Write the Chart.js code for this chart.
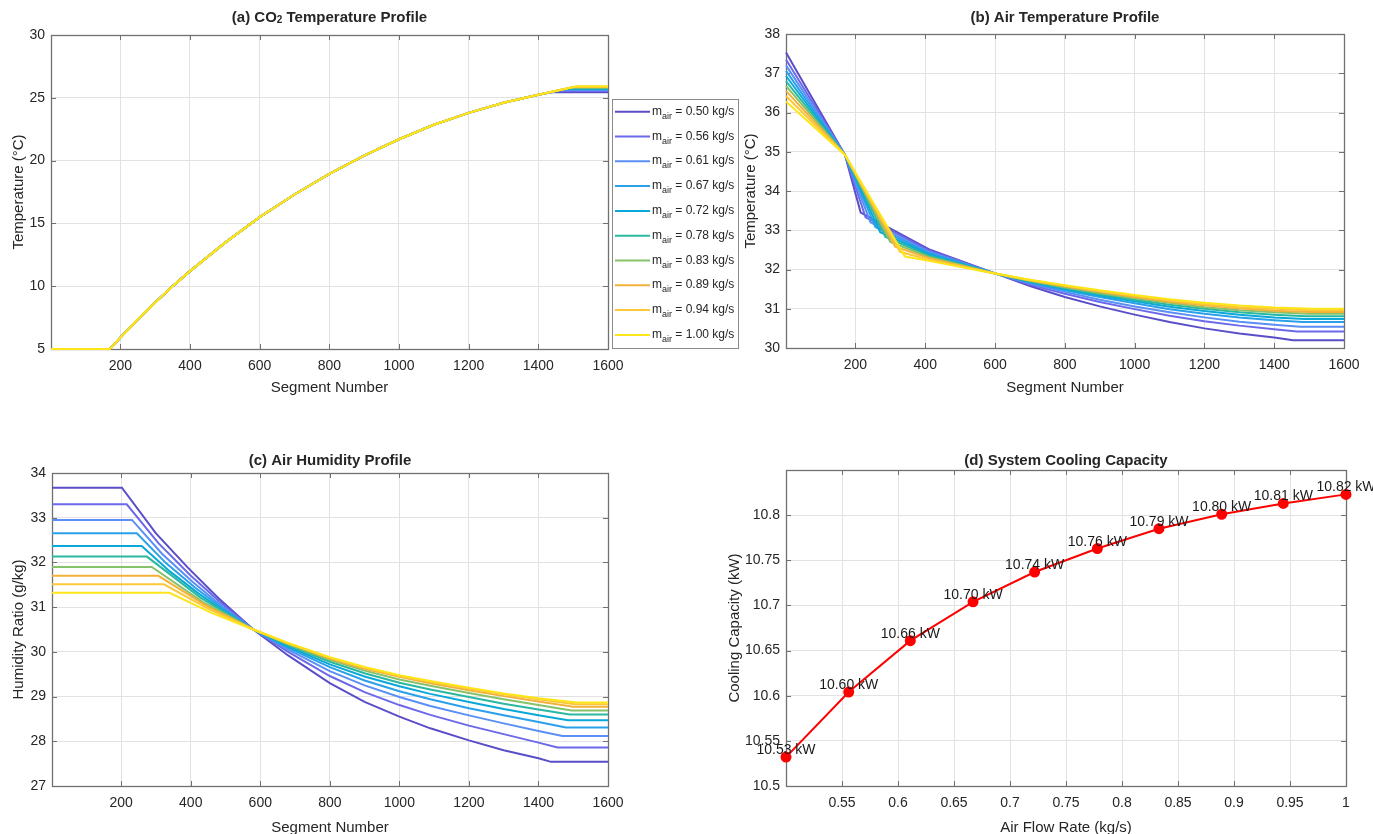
<!DOCTYPE html>
<html><head><meta charset="utf-8">
<script src="https://cdn.jsdelivr.net/npm/chart.js@4.4.0/dist/chart.umd.min.js"></script>
<style>
html,body{margin:0;padding:0;background:#fff;}
#wrap{position:relative;width:1373px;height:834px;overflow:hidden;background:#fff;}
canvas{position:absolute;left:0;top:0;}
</style></head><body>
<div id="wrap">
<canvas id="ca" width="1373" height="834"></canvas>
<canvas id="cb" width="1373" height="834"></canvas>
<canvas id="cc" width="1373" height="834"></canvas>
<canvas id="cd" width="1373" height="834"></canvas>
</div>
<script>
// ---------------- DATA ----------------
const seriesLabels = ['0.50','0.56','0.61','0.67','0.72','0.78','0.83','0.89','0.94','1.00'];
const seriesColors = ['#5a4ec8','#6b68ea','#5a8ff5','#2aa0ea','#0aa8d8','#2ab8a0','#86c26a','#f4b13a','#fcc838','#fde518'];

const segTicks = [200,400,600,800,1000,1200,1400,1600];
const co2TempTicks = [5,10,15,20,25,30];
const airTempTicks = [30,31,32,33,34,35,36,37,38];
const humidityTicks = [27,28,29,30,31,32,33,34];
const flowTicks = [0.55,0.6,0.65,0.7,0.75,0.8,0.85,0.9,0.95,1];
const capacityTicks = [10.5,10.55,10.6,10.65,10.7,10.75,10.8];

// (a) CO2 temperature [segment, °C]
const co2Rise = [[1,5],[170,5],[200,5.9],[250,7.35],[300,8.7],[350,10.0],[400,11.2],[500,13.45],[600,15.5],[700,17.3],[800,18.95],[900,20.4],[1000,21.7],[1100,22.85],[1200,23.8],[1300,24.6],[1400,25.25]];
const co2FlatStart = [1440,1455,1465,1475,1482,1488,1494,1500,1505,1510];
const co2Outlet = [25.45,25.55,25.62,25.68,25.73,25.77,25.81,25.85,25.88,25.91];

// (b) Air temperature [segment, °C]
const airTemp = [
 [[1,37.53],[170,34.92],[215,33.45],[410,32.52],[600,31.9],[700,31.58],[800,31.3],[900,31.06],[1000,30.85],[1100,30.66],[1200,30.5],[1300,30.37],[1400,30.27],[1454,30.2],[1600,30.2]],
 [[1,37.35],[170,34.92],[229,33.33],[410,32.49],[600,31.9],[700,31.62],[800,31.38],[900,31.17],[1000,30.99],[1100,30.82],[1200,30.68],[1300,30.57],[1400,30.48],[1465,30.42],[1600,30.42]],
 [[1,37.2],[170,34.92],[243,33.2],[410,32.45],[600,31.9],[700,31.65],[800,31.43],[900,31.23],[1000,31.06],[1100,30.91],[1200,30.78],[1300,30.67],[1400,30.59],[1475,30.54],[1600,30.54]],
 [[1,37.06],[170,34.92],[257,33.08],[410,32.42],[600,31.9],[700,31.67],[800,31.47],[900,31.3],[1000,31.14],[1100,30.99],[1200,30.87],[1300,30.78],[1400,30.71],[1482,30.66],[1600,30.66]],
 [[1,36.93],[170,34.92],[271,32.95],[410,32.39],[600,31.9],[700,31.69],[800,31.5],[900,31.34],[1000,31.19],[1100,31.05],[1200,30.94],[1300,30.85],[1400,30.78],[1488,30.74],[1600,30.74]],
 [[1,36.8],[170,34.92],[286,32.83],[410,32.35],[600,31.9],[700,31.7],[800,31.53],[900,31.37],[1000,31.23],[1100,31.1],[1200,31.0],[1300,30.91],[1400,30.85],[1493,30.81],[1600,30.81]],
 [[1,36.68],[170,34.92],[300,32.7],[410,32.32],[600,31.9],[700,31.71],[800,31.55],[900,31.4],[1000,31.27],[1100,31.15],[1200,31.04],[1300,30.96],[1400,30.91],[1498,30.87],[1600,30.87]],
 [[1,36.55],[170,34.92],[314,32.58],[410,32.29],[600,31.9],[700,31.72],[800,31.57],[900,31.43],[1000,31.3],[1100,31.18],[1200,31.09],[1300,31.01],[1400,30.95],[1502,30.92],[1600,30.92]],
 [[1,36.42],[170,34.92],[328,32.45],[410,32.25],[600,31.9],[700,31.73],[800,31.59],[900,31.45],[1000,31.33],[1100,31.21],[1200,31.12],[1300,31.04],[1400,31.0],[1506,30.96],[1600,30.96]],
 [[1,36.28],[170,34.92],[342,32.33],[410,32.22],[600,31.9],[700,31.74],[800,31.6],[900,31.47],[1000,31.35],[1100,31.24],[1200,31.15],[1300,31.08],[1400,31.03],[1510,31.0],[1600,31.0]]
];

// (c) Air humidity ratio [segment, g/kg]
const humidity = [
 [[1,33.67],[202,33.67],[300,32.65],[391,31.89],[480,31.2],[580,30.5],[680,29.92],[800,29.3],[900,28.88],[1000,28.55],[1089,28.29],[1200,28.02],[1300,27.8],[1400,27.62],[1436,27.54],[1600,27.54]],
 [[1,33.3],[216,33.3],[307,32.43],[398,31.72],[489,31.08],[580,30.5],[680,30.0],[800,29.46],[900,29.1],[1000,28.81],[1089,28.59],[1200,28.35],[1300,28.16],[1400,27.97],[1455,27.86],[1600,27.86]],
 [[1,32.95],[231,32.95],[318,32.19],[405,31.57],[492,31.01],[580,30.5],[680,30.05],[800,29.57],[900,29.25],[1000,28.99],[1089,28.79],[1200,28.58],[1300,28.4],[1400,28.23],[1469,28.12],[1600,28.12]],
 [[1,32.65],[245,32.65],[328,31.99],[412,31.44],[496,30.95],[580,30.5],[680,30.09],[800,29.66],[900,29.36],[1000,29.12],[1089,28.94],[1200,28.74],[1300,28.58],[1400,28.43],[1479,28.31],[1600,28.31]],
 [[1,32.37],[259,32.37],[340,31.8],[420,31.32],[500,30.89],[580,30.5],[680,30.12],[800,29.72],[900,29.45],[1000,29.23],[1089,29.06],[1200,28.88],[1300,28.72],[1400,28.58],[1485,28.47],[1600,28.47]],
 [[1,32.13],[274,32.13],[427,31.22],[580,30.5],[680,30.15],[800,29.78],[900,29.52],[1000,29.31],[1089,29.16],[1200,28.99],[1300,28.84],[1400,28.71],[1490,28.6],[1600,28.6]],
 [[1,31.9],[288,31.9],[434,31.12],[580,30.5],[680,30.17],[800,29.82],[900,29.58],[1000,29.38],[1089,29.24],[1200,29.08],[1300,28.94],[1400,28.81],[1495,28.69],[1600,28.69]],
 [[1,31.7],[307,31.7],[443,31.04],[580,30.5],[680,30.19],[800,29.85],[900,29.62],[1000,29.44],[1089,29.3],[1200,29.14],[1300,29.01],[1400,28.89],[1500,28.77],[1600,28.77]],
 [[1,31.51],[323,31.51],[451,30.96],[580,30.5],[680,30.19],[800,29.87],[900,29.65],[1000,29.46],[1089,29.33],[1200,29.18],[1300,29.05],[1400,28.94],[1505,28.83],[1600,28.83]],
 [[1,31.32],[339,31.32],[460,30.87],[580,30.5],[680,30.2],[800,29.88],[900,29.66],[1000,29.48],[1089,29.35],[1200,29.2],[1300,29.07],[1400,28.96],[1510,28.87],[1600,28.87]]
];

// (d) System cooling capacity
const airFlow = [0.5,0.556,0.611,0.667,0.722,0.778,0.833,0.889,0.944,1.0];
const capacity = [10.532,10.604,10.661,10.704,10.737,10.763,10.785,10.801,10.813,10.823];
const capacityLabels = ['10.53 kW','10.60 kW','10.66 kW','10.70 kW','10.74 kW','10.76 kW','10.79 kW','10.80 kW','10.81 kW','10.82 kW'];

// ---------------- RENDER ----------------
const FONT = '"Liberation Sans", Arial, Helvetica, sans-serif';
const TXT = '#262626';
Chart.defaults.font.family = FONT;
Chart.defaults.font.size = 14;
Chart.defaults.color = TXT;

const toXY = arr => arr.map(p => ({x:p[0], y:p[1]}));

const decoPlugin = {
  id: 'deco',
  beforeDatasetsDraw(chart) {
    const {ctx, chartArea:a, scales:{x,y}} = chart;
    ctx.save();
    ctx.strokeStyle = '#707070';
    ctx.lineWidth = 1;
    ctx.beginPath();
    x.ticks.forEach(t => {
      const p = Math.round(x.getPixelForValue(t.value)) + 0.5;
      ctx.moveTo(p, a.bottom); ctx.lineTo(p, a.bottom - 5);
      ctx.moveTo(p, a.top); ctx.lineTo(p, a.top + 5);
    });
    y.ticks.forEach(t => {
      const p = Math.round(y.getPixelForValue(t.value)) + 0.5;
      ctx.moveTo(a.left, p); ctx.lineTo(a.left + 5, p);
      ctx.moveTo(a.right, p); ctx.lineTo(a.right - 5, p);
    });
    ctx.stroke();
    ctx.lineWidth = 1.3;
    ctx.strokeRect(Math.round(a.left)+0.5, Math.round(a.top)+0.5, Math.round(a.right-a.left), Math.round(a.bottom-a.top));
    ctx.restore();
  },
  afterDraw(chart, args, o) {
    const {ctx, chartArea:a} = chart;
    ctx.save();
    ctx.fillStyle = TXT;
    ctx.textBaseline = 'middle';
    const cx = (a.left + a.right) / 2;
    const big = 'bold 15px ' + FONT, small = 'bold 10px ' + FONT;
    let total = 0;
    o.title.forEach(s => { ctx.font = s.sub ? small : big; total += ctx.measureText(s.t).width; });
    let tx = cx - total / 2;
    ctx.textAlign = 'left';
    o.title.forEach(s => {
      ctx.font = s.sub ? small : big;
      ctx.fillText(s.t, tx, o.titleY + (s.sub ? 2 : 0));
      tx += ctx.measureText(s.t).width;
    });
    ctx.font = '15px ' + FONT;
    ctx.textAlign = 'center';
    ctx.fillText(o.xlabel, cx, o.xlabelY);
    ctx.translate(o.ylabelX, (a.top + a.bottom) / 2);
    ctx.rotate(-Math.PI / 2);
    ctx.fillText(o.ylabel, 0, 0);
    ctx.restore();

    if (o.legend) {
      const L = 612, T = 99, R = 738, B = 348;
      ctx.save();
      ctx.fillStyle = '#fff'; ctx.fillRect(L, T, R - L, B - T);
      ctx.strokeStyle = '#8a8a8a'; ctx.lineWidth = 1;
      ctx.strokeRect(L + 0.5, T + 0.5, R - L, B - T);
      seriesLabels.forEach((lab, i) => {
        const yy = 111.7 + i * 24.8;
        ctx.strokeStyle = seriesColors[i]; ctx.lineWidth = 2;
        ctx.beginPath(); ctx.moveTo(615, yy); ctx.lineTo(650, yy); ctx.stroke();
        ctx.fillStyle = TXT; ctx.textAlign = 'left'; ctx.textBaseline = 'alphabetic';
        let x = 652; const base = yy + 3;
        ctx.font = '12px ' + FONT; ctx.fillText('m', x, base); x += ctx.measureText('m').width;
        ctx.font = '9px ' + FONT; ctx.fillText('air', x, base + 4); x += ctx.measureText('air').width;
        ctx.font = '12px ' + FONT; ctx.fillText(' = ' + lab + ' kg/s', x, base);
      });
      ctx.restore();
    }
  },
  afterDatasetsDraw(chart, args, o) {
    if (!o.pointLabels) return;
    const {ctx, scales:{x,y}} = chart;
    ctx.save();
    ctx.fillStyle = '#1a1a1a';
    ctx.font = '14px ' + FONT;
    ctx.textAlign = 'center'; ctx.textBaseline = 'alphabetic';
    o.pointLabels.forEach((lab, i) => {
      ctx.fillText(lab, x.getPixelForValue(airFlow[i]), y.getPixelForValue(capacity[i]) - 3);
    });
    ctx.restore();
  }
};

function axisCfg(min, max, ticks, fmt, pad, isX) {
  return {
    type: 'linear', min, max,
    afterBuildTicks: s => { s.ticks = ticks.map(v => ({value: v})); },
    afterFit: s => { if (isX) s.height = 30; else s.width = 40; },
    ticks: { callback: fmt, padding: pad, autoSkip: false, maxRotation: 0, color: TXT, font: {size: 14} },
    grid: { color: '#e2e2e2', lineWidth: 1, drawTicks: false },
    border: { display: false }
  };
}
const intFmt = v => String(v);
const decFmt = v => String(Math.round(v * 100) / 100);

function makeLines(seriesList) {
  return seriesList.map((pts, k) => ({
    label: seriesLabels[k],
    data: toXY(pts),
    borderColor: seriesColors[k],
    borderWidth: 2,
    pointRadius: 0,
    tension: 0,
    fill: false,
    clip: false,
    order: 9 - k
  }));
}

function makeChart(id, datasets, area, xa, ya, deco) {
  return new Chart(document.getElementById(id), {
    type: 'line',
    data: { datasets },
    options: {
      responsive: false, animation: false, devicePixelRatio: 1,
      layout: { padding: { left: area.left - 40, top: area.top, right: 1373 - area.right, bottom: 834 - area.bottom - 30 } },
      plugins: { legend: {display: false}, tooltip: {enabled: false}, title: {display: false}, deco },
      scales: { x: xa, y: ya }
    },
    plugins: [decoPlugin]
  });
}

const co2Series = co2FlatStart.map((b, k) => co2Rise.concat([[b, co2Outlet[k]], [1600, co2Outlet[k]]]));

makeChart('ca', makeLines(co2Series), {left:51, top:35, right:608, bottom:349},
  axisCfg(1, 1600, segTicks, intFmt, 9, true), axisCfg(5, 30, co2TempTicks, intFmt, 6, false),
  { title: [{t:'(a) CO'},{t:'2', sub:true},{t:' Temperature Profile'}], titleY: 18, xlabel: 'Segment Number', xlabelY: 388, ylabel: 'Temperature (°C)', ylabelX: 19, legend: true });

makeChart('cb', makeLines(airTemp), {left:786, top:34, right:1344, bottom:348},
  axisCfg(1, 1600, segTicks, intFmt, 9, true), axisCfg(30, 38, airTempTicks, intFmt, 6, false),
  { title: [{t:'(b) Air Temperature Profile'}], titleY: 18, xlabel: 'Segment Number', xlabelY: 388, ylabel: 'Temperature (°C)', ylabelX: 751 });

makeChart('cc', makeLines(humidity), {left:52, top:473, right:608, bottom:786},
  axisCfg(1, 1600, segTicks, intFmt, 9, true), axisCfg(27, 34, humidityTicks, intFmt, 6, false),
  { title: [{t:'(c) Air Humidity Profile'}], titleY: 461, xlabel: 'Segment Number', xlabelY: 828, ylabel: 'Humidity Ratio (g/kg)', ylabelX: 19 });

makeChart('cd', [{
    data: airFlow.map((v, i) => ({x: v, y: capacity[i]})),
    borderColor: '#ff0000', backgroundColor: '#ff0000',
    borderWidth: 2, pointRadius: 4.5, pointBackgroundColor: '#ff0000', pointBorderColor: '#ff0000',
    tension: 0, clip: false
  }], {left:786, top:470, right:1346, bottom:786},
  axisCfg(0.5, 1, flowTicks, decFmt, 9, true), axisCfg(10.5, 10.85, capacityTicks, decFmt, 6, false),
  { title: [{t:'(d) System Cooling Capacity'}], titleY: 461, xlabel: 'Air Flow Rate (kg/s)', xlabelY: 828, ylabel: 'Cooling Capacity (kW)', ylabelX: 735, pointLabels: capacityLabels });
</script>
</body></html>
